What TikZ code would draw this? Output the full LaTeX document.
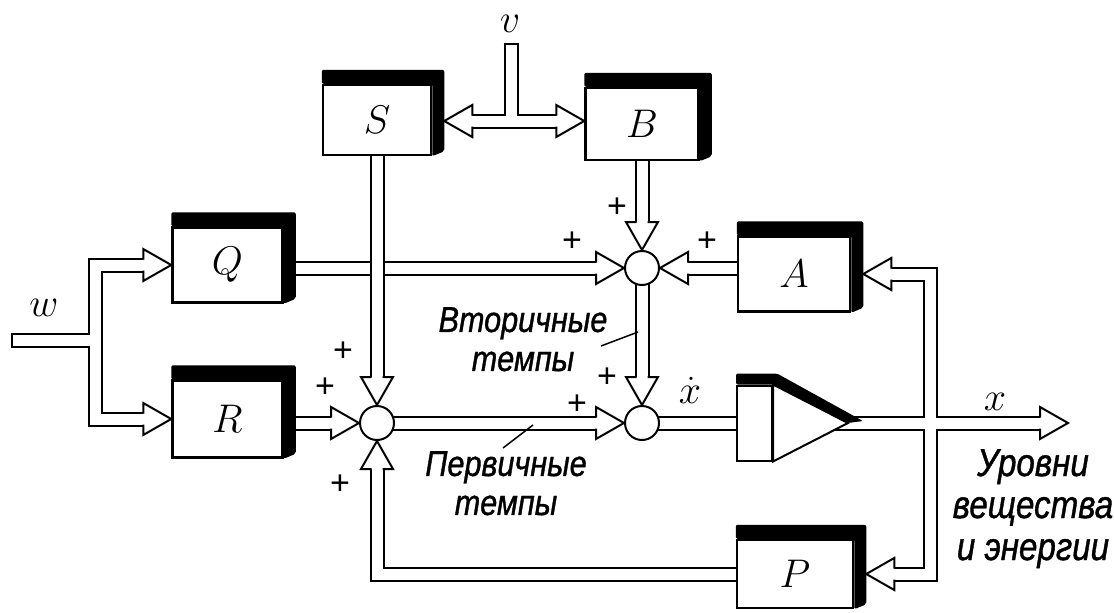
\RequirePackage{fix-cm}
\documentclass[tikz,border=0pt]{standalone}
\usepackage{fontspec}
\newfontfamily\cyr{Liberation Sans}[FakeStretch=0.85,FakeBold=1]
\newfontfamily\plusf{Liberation Sans}
\usetikzlibrary{calc,backgrounds}
\begin{document}
\begin{tikzpicture}[x=1pt,y=-1pt,
  pipe/.style={draw=black, line width=2pt, double=white, double distance=11pt, line join=miter},
  blk/.style={draw, line width=2.5pt, fill=white, inner sep=0pt, minimum width=110pt, minimum height=72pt, font=\fontsize{40}{40}\selectfont},
  sumj/.style={draw, circle, line width=2pt, fill=white, minimum size=34pt, inner sep=0pt},
  pl/.style={font=\plusf\fontsize{34}{34}\selectfont, inner sep=0pt},
  lbl/.style={font=\fontsize{40}{40}\selectfont, inner sep=0pt},
  cyrl/.style={font=\cyr\itshape\fontsize{36}{39}\selectfont, align=center, inner sep=0pt},
  lead/.style={line width=1.5pt},
  capline/.style={line width=2pt},
  ahead/.pic={
    \fill[white] (0,0) -- (-28,16) -- (-28,-16) -- cycle;
    \draw[line width=2pt, line join=miter] (-28,5.5) -- (-28,16) -- (0,0) -- (-28,-16) -- (-28,-5.5);
  }
]
\useasboundingbox (0,0) rectangle (1114,613);

% blocks
\node[blk, minimum width=108pt, minimum height=70pt] (S) at (377,120) {$S$};
\node[blk, minimum width=113pt] (B) at (642,124) {$B$};
\node[blk, minimum height=75pt] (Q) at (227.5,265) {$Q$};
\node[blk, minimum height=77pt] (R) at (227.5,419) {$R$};
\node[blk, minimum width=112pt, minimum height=75pt] (A) at (794,274) {$A$};
\node[blk, minimum width=116pt, minimum height=68pt] (P) at (795,574) {$P$};
\foreach \n in {S,B,Q,R,A,P}{
  \fill[rounded corners=2pt] (\n.north west) -- ($(\n.north west)+(0,-14)$) -- ($(\n.north east)+(12,-14)$) -- ($(\n.south east)+(12,-5)$) -- (\n.south east) -- (\n.north east) -- cycle;
}

% integrator
\node[draw, line width=2pt, fill=white, minimum width=35pt, minimum height=75pt, inner sep=0pt] (I) at (754.5,423) {};
\coordinate (It) at (848,423);

% summing junctions
\node[sumj] (j1) at (642,268) {};
\node[sumj] (j2) at (642,423) {};
\node[sumj] (j3) at (377,423) {};

% free ends and branch points
\coordinate (w0) at (12,340);
\coordinate (ws) at (95,340);
\coordinate (v0) at (511,44);
\coordinate (vs) at (511,121);
\coordinate (xo) at (1068,423);
\coordinate (fb) at (930,423);

\begin{scope}[on background layer]
  \draw[pipe] (w0) -- (ws) ($(Q.west)+(-26,0)$) -| (ws) |- ($(R.west)+(-26,0)$);
  \draw[pipe] (Q.center |- j1) -- ($(j1.west)+(-26,0)$);
  \draw[pipe] (S.center) -- ($(j3.north)+(0,-26)$);
  \draw[pipe] (B.center -| j1) -- ($(j1.north)+(0,-26)$);
  \draw[pipe] (A.center |- j1) -- ($(j1.east)+(26,0)$);
  \draw[pipe] (j1.center) -- ($(j2.north)+(0,-26)$);
  \draw[pipe] (R.center |- j3) -- ($(j3.west)+(-26,0)$);
  \draw[pipe] (j3.center) -- ($(j2.west)+(-26,0)$);
  \draw[pipe] (j2.center) -- (I.center);
  \draw[pipe] (I.center) -- ($(xo)+(-26,0)$) ($(A.east)+(38,0)$) -| (fb) |- ($(P.east)+(38,0)$);
  \draw[pipe] (P.center) -| ($(j3.south)+(0,26)$);
  \draw[pipe] ($(S.east |- vs)+(38,0)$) -- ($(B.west |- vs)+(-26,0)$) (v0) -- (vs);
\end{scope}

% pipe end caps
\draw[capline] ($(w0)+(0,-7.5)$) -- ($(w0)+(0,7.5)$);
\draw[capline] ($(v0)+(-7.5,0)$) -- ($(v0)+(7.5,0)$);

% integrator triangle and its shadow
\filldraw[fill=white, line width=2pt, line join=miter] (I.north east) -- (It) -- (I.south east) -- cycle;
\fill[rounded corners=2pt] (I.north west) -- ($(I.north west)+(0,-11)$) -- ($(I.north east)+(4,-11)$) -- ($(It)+(15,-2)$) -- (It) -- (I.north east) -- cycle;

% arrowheads
\pic at (Q.west) {ahead};
\pic at (R.west) {ahead};
\pic at (j1.west) {ahead};
\pic[rotate=-90] at (j1.north) {ahead};
\pic[rotate=180] at (j1.east) {ahead};
\pic[rotate=-90] at (j3.north) {ahead};
\pic at (j3.west) {ahead};
\pic[rotate=90] at (j3.south) {ahead};
\pic[rotate=-90] at (j2.north) {ahead};
\pic at (j2.west) {ahead};
\pic at (xo) {ahead};
\pic[rotate=180] at ($(A.east)+(12,0)$) {ahead};
\pic[rotate=180] at ($(P.east)+(12,0)$) {ahead};
\pic[rotate=180] at ($(S.east |- vs)+(12,0)$) {ahead};
\pic at (B.west |- vs) {ahead};

% signal labels
\node[lbl] (vl) at (510,24) {$v$};
\node[lbl, anchor=base] (wl) at (44,316) {$w$};
\node[lbl, anchor=base] (xl) at (995,410) {$x$};
\node[lbl, anchor=base] (xdl) at (690,403) {$\dot{x}$};

% plus signs
\node[pl] (p1) at (343,352) {+};
\node[pl] (p2) at (325,388) {+};
\node[pl] (p3) at (340,485) {+};
\node[pl] (p4) at (617,208) {+};
\node[pl] (p5) at (572,242) {+};
\node[pl] (p6) at (707,242) {+};
\node[pl] (p7) at (607,378) {+};
\node[pl] (p8) at (577,405) {+};

% text labels with leaders
\node[cyrl, anchor=north] (vt) at (523,307) {Вторичные\\темпы};
\node[cyrl, anchor=north] (pt) at (506,451) {Первичные\\темпы};
\node[cyrl, font=\cyr\itshape\fontsize{39}{42}\selectfont, anchor=north] (ur) at (1033,449) {Уровни\\вещества\\и энергии};
\coordinate (l1a) at (601,346);
\coordinate (l1b) at (638,332);
\coordinate (l2a) at (503,448);
\coordinate (l2b) at (533,425);
\draw[lead] (l1a) -- (l1b);
\draw[lead] (l2a) -- (l2b);
\end{tikzpicture}
\end{document}
